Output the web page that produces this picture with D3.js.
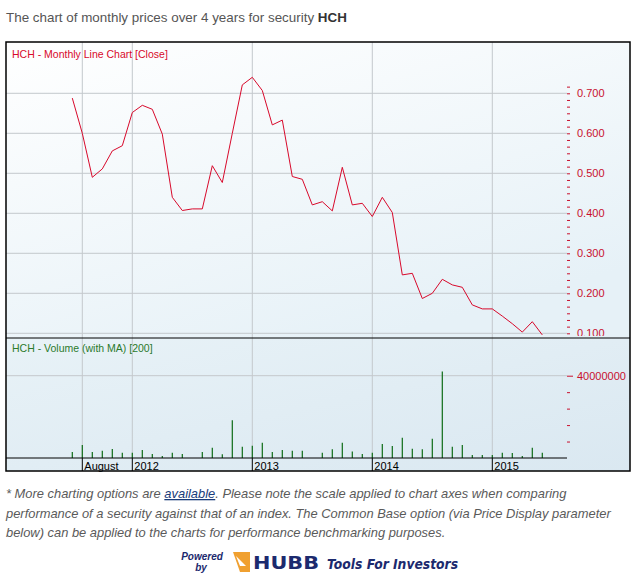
<!DOCTYPE html>
<html>
<head>
<meta charset="utf-8">
<script src="https://cdn.jsdelivr.net/npm/d3@7"></script>
<style>
  body { margin: 0; background: #fff; }
  svg { display: block; font-family: "Liberation Sans", Arial, sans-serif; }
</style>
</head>
<body>
<svg id="chart" width="639" height="577"></svg>
<script>
(function () {

    // one entry per month, Jul 2011 .. Jun 2015
    const months = [
        "2011-07", "2011-08", "2011-09", "2011-10", "2011-11", "2011-12",
        "2012-01", "2012-02", "2012-03", "2012-04", "2012-05", "2012-06",
        "2012-07", "2012-08", "2012-09", "2012-10", "2012-11", "2012-12",
        "2013-01", "2013-02", "2013-03", "2013-04", "2013-05", "2013-06",
        "2013-07", "2013-08", "2013-09", "2013-10", "2013-11", "2013-12",
        "2014-01", "2014-02", "2014-03", "2014-04", "2014-05", "2014-06",
        "2014-07", "2014-08", "2014-09", "2014-10", "2014-11", "2014-12",
        "2015-01", "2015-02", "2015-03", "2015-04", "2015-05", "2015-06"
    ];

    const close = [
        0.688, 0.600, 0.490, 0.511, 0.556, 0.569,
        0.652, 0.670, 0.660, 0.598, 0.440, 0.407,
        0.411, 0.411, 0.519, 0.477, 0.600, 0.721,
        0.740, 0.707, 0.621, 0.633, 0.492, 0.485,
        0.421, 0.429, 0.406, 0.515, 0.421, 0.425,
        0.392, 0.440, 0.402, 0.246, 0.250, 0.187,
        0.200, 0.235, 0.221, 0.215, 0.171, 0.161,
        0.161, 0.143, 0.124, 0.103, 0.129, 0.096
    ];

    // monthly volume, millions of shares
    const volume = [
        2.9, 6.3, 2.9, 3.5, 4.4, 2.6,
        2.6, 3.9, 1.9, 1.0, 2.6, 1.9,
        0.0, 2.9, 5.0, 1.8, 18.4, 5.5,
        6.0, 7.4, 2.9, 3.9, 3.5, 3.5,
        0.0, 2.6, 4.2, 7.4, 3.1, 1.9,
        2.6, 6.8, 5.8, 9.8, 4.5, 4.2,
        9.3, 42.1, 5.5, 6.3, 1.5, 1.5,
        1.5, 2.6, 2.4, 1.0, 5.0, 2.6
    ];

    const xTicks = ["2011-08", "2012-01", "2013-01", "2014-01", "2015-01"];
    const xTickLabels = ["August", "2012", "2013", "2014", "2015"];
    const priceTicks = [0.1, 0.2, 0.3, 0.4, 0.5, 0.6, 0.7];
    const volumeTicks = [40e6];
    const volumeMinor = [8e6, 16e6, 24e6, 32e6];

    const svg = d3.select('#chart');

    const left = 6, right = 630, top = 42, split = 338, base = 458, bottom = 471;
    const axisX = 567;

    const x = d3.scalePoint().domain(months).range([72.3, 542.3]);
    const yPrice = d3.scaleLinear().domain([0.1, 0.7]).range([333.3, 93.3]);
    const yVol = d3.scaleLinear().domain([0, 40e6]).range([base, 375.7]);

    const defs = svg.append('defs');
    const g1 = defs.append('linearGradient').attr('id', 'priceBg')
        .attr('x1', 0).attr('y1', 0).attr('x2', 0.6).attr('y2', 1);
    g1.append('stop').attr('offset', 0).attr('stop-color', '#ffffff');
    g1.append('stop').attr('offset', 1).attr('stop-color', '#e6f1f7');
    const g2 = defs.append('linearGradient').attr('id', 'volBg')
        .attr('x1', 0).attr('y1', 0).attr('x2', 1).attr('y2', 1);
    g2.append('stop').attr('offset', 0).attr('stop-color', '#e8f2f7');
    g2.append('stop').attr('offset', 1).attr('stop-color', '#dae8f1');
    defs.append('clipPath').attr('id', 'priceClip')
        .append('rect').attr('x', left).attr('y', top).attr('width', right - left).attr('height', split - top - 2);

    // title
    const title = svg.append('text').attr('x', 6).attr('y', 22)
        .attr('font-size', 13.4).attr('fill', '#555');
    title.append('tspan').text('The chart of monthly prices over 4 years for security ');
    title.append('tspan').attr('font-weight', 'bold').attr('fill', '#333').text('HCH');

    // panes
    svg.append('rect').attr('x', left).attr('y', top).attr('width', right - left).attr('height', split - top)
        .attr('fill', 'url(#priceBg)');
    svg.append('rect').attr('x', left).attr('y', split).attr('width', right - left).attr('height', bottom - split)
        .attr('fill', 'url(#volBg)');

    // grid
    svg.selectAll('.vgrid').data(xTicks).enter().append('line')
        .attr('x1', d => x(d)).attr('x2', d => x(d))
        .attr('y1', top).attr('y2', base)
        .attr('stroke', '#c4c8cc').attr('stroke-width', 1);
    svg.selectAll('.hgrid').data(priceTicks).enter().append('line')
        .attr('x1', left).attr('x2', axisX)
        .attr('y1', d => yPrice(d)).attr('y2', d => yPrice(d))
        .attr('stroke', '#c4c8cc');
    svg.selectAll('.vgridv').data(volumeTicks).enter().append('line')
        .attr('x1', left).attr('x2', axisX)
        .attr('y1', d => yVol(d)).attr('y2', d => yVol(d))
        .attr('stroke', '#c4c8cc');

    // price line
    const line = d3.line().x((d, i) => x(months[i])).y(d => yPrice(d));
    svg.append('path').datum(close)
        .attr('clip-path', 'url(#priceClip)')
        .attr('d', line).attr('fill', 'none')
        .attr('stroke', '#d8092b').attr('stroke-width', 1);

    // volume bars
    svg.selectAll('.bar').data(volume).enter().append('line')
        .attr('x1', (d, i) => x(months[i])).attr('x2', (d, i) => x(months[i]))
        .attr('y1', base).attr('y2', d => yVol(d * 1e6))
        .attr('stroke', '#0d6b16').attr('stroke-width', 1.2);

    // right axes
    const minorPrice = d3.range(0, 38).map(i => 0.1 + i * 0.1 / 6).filter(v => v <= 0.72);
    const aMinor = svg.append('g').attr('transform', `translate(${axisX},0)`)
        .call(d3.axisRight(yPrice).tickValues(minorPrice).tickSize(3).tickFormat(''));
    const aPrice = svg.append('g').attr('transform', `translate(${axisX},0)`)
        .call(d3.axisRight(yPrice).tickValues(priceTicks).tickSize(6).tickPadding(4).tickFormat(d3.format('.3f')));
    const aVolMinor = svg.append('g').attr('transform', `translate(${axisX},0)`)
        .call(d3.axisRight(yVol).tickValues(volumeMinor).tickSize(3).tickFormat(''));
    const aVol = svg.append('g').attr('transform', `translate(${axisX},0)`)
        .call(d3.axisRight(yVol).tickValues(volumeTicks).tickSize(6).tickPadding(4).tickFormat(d3.format('d')));
    [aMinor, aPrice, aVolMinor, aVol].forEach(a => {
        a.select('.domain').remove();
        a.selectAll('line').attr('stroke', '#c8102e');
        a.selectAll('text').attr('fill', '#c8102e').attr('font-size', 11)
            .attr('font-family', '"Liberation Sans", Arial, sans-serif');
    });
    // the 0.100 label is cut by the pane edge
    aPrice.attr('clip-path', 'url(#priceClip)');

    // pane captions
    svg.append('text').attr('x', 12).attr('y', 58).attr('font-size', 10.5)
        .attr('fill', '#d8092b').text('HCH - Monthly Line Chart [Close]');
    svg.append('text').attr('x', 12).attr('y', 352).attr('font-size', 10.5)
        .attr('fill', '#2b7a2b').text('HCH - Volume (with MA) [200]');

    // x axis band
    svg.append('line').attr('x1', left).attr('x2', axisX).attr('y1', base).attr('y2', base)
        .attr('stroke', '#000').attr('stroke-width', 1);
    svg.selectAll('.xsep').data(xTicks).enter().append('line')
        .attr('x1', d => x(d)).attr('x2', d => x(d)).attr('y1', base).attr('y2', bottom)
        .attr('stroke', '#000');
    svg.selectAll('.xlab').data(xTicks).enter().append('text')
        .attr('x', d => x(d) + 2).attr('y', base + 11.5)
        .attr('font-size', 11).attr('fill', '#000')
        .text((d, i) => xTickLabels[i]);

    // frame and divider
    svg.append('line').attr('x1', left).attr('x2', right).attr('y1', split).attr('y2', split)
        .attr('stroke', '#000').attr('stroke-width', 1.2);
    svg.append('rect').attr('x', left).attr('y', top).attr('width', right - left).attr('height', bottom - top)
        .attr('fill', 'none').attr('stroke', '#000').attr('stroke-width', 1.5);

    // footnote
    const note = svg.append('g').attr('font-size', 12.9).attr('font-style', 'italic').attr('fill', '#5a5a5a');
    const l1 = note.append('text').attr('x', 6).attr('y', 498);
    l1.append('tspan').text('* More charting options are ');
    l1.append('tspan').attr('fill', '#1a3c7a').attr('text-decoration', 'underline').text('available');
    l1.append('tspan').text('. Please note the scale applied to chart axes when comparing');
    note.append('text').attr('x', 6).attr('y', 518)
        .text('performance of a security against that of an index. The Common Base option (via Price Display parameter');
    note.append('text').attr('x', 6).attr('y', 537)
        .text('below) can be applied to the charts for performance benchmarking purposes.');

    // powered by
    const logo = svg.append('g').attr('fill', '#1c2a6e').attr('font-weight', 'bold');
    logo.append('text').attr('x', 202).attr('y', 560).attr('text-anchor', 'middle')
        .attr('font-size', 10).attr('font-style', 'italic').text('Powered');
    logo.append('text').attr('x', 201).attr('y', 571).attr('text-anchor', 'middle')
        .attr('font-size', 10).attr('font-style', 'italic').text('by');
    logo.append('path').attr('d', 'M233,552 L250,552 L250,572 L240,572 Z').attr('fill', '#f0a030');
    logo.append('path').attr('d', 'M236,556 L246,566 L240,566 Z').attr('fill', '#fff');
    logo.append('text').attr('x', 253).attr('y', 569).attr('font-size', 17)
        .attr('font-family', '"DejaVu Sans", sans-serif').attr('textLength', 66)
        .attr('lengthAdjust', 'spacingAndGlyphs').text('HUBB');
    logo.append('text').attr('x', 327).attr('y', 569).attr('font-size', 13.5)
        .attr('font-style', 'italic').attr('font-family', '"DejaVu Sans", sans-serif')
        .attr('textLength', 131).attr('lengthAdjust', 'spacingAndGlyphs')
        .text('Tools For Investors');

})();
</script>
</body>
</html>
